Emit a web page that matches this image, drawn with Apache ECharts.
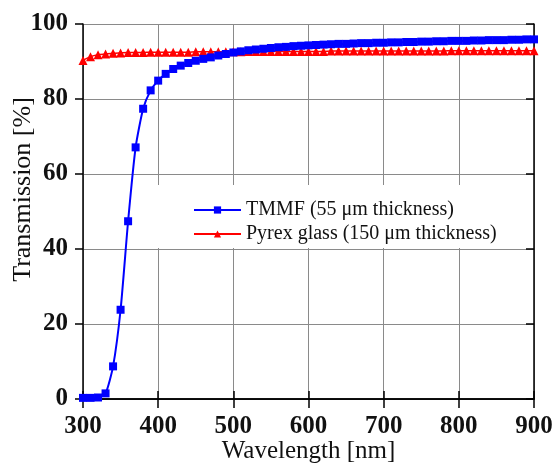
<!DOCTYPE html>
<html>
<head>
<meta charset="utf-8">
<script src="https://cdn.jsdelivr.net/npm/echarts@6/dist/echarts.min.js"></script>
<style>
  html, body { margin: 0; padding: 0; background: #fff; }
  #main { width: 554px; height: 464px; }
</style>
</head>
<body>
<div id="main"></div>
<script>
// wavelength samples [nm]
const wavelengths = [
  300, 310, 320, 330, 340, 350, 360, 370, 380, 390,
  400, 410, 420, 430, 440, 450, 460, 470, 480, 490,
  500, 510, 520, 530, 540, 550, 560, 570, 580, 590,
  600, 610, 620, 630, 640, 650, 660, 670, 680, 690,
  700, 710, 720, 730, 740, 750, 760, 770, 780, 790,
  800, 810, 820, 830, 840, 850, 860, 870, 880, 890, 900
];
// TMMF (55 um) transmission [%]
const tmmf = [
  0.3, 0.3, 0.4, 1.5, 8.7, 23.8, 47.4, 67.1, 77.4, 82.3,
  84.9, 86.7, 88.0, 88.9, 89.6, 90.2, 90.7, 91.1, 91.6, 92.0,
  92.4, 92.7, 93.0, 93.2, 93.4, 93.6, 93.8, 93.9, 94.1, 94.2,
  94.3, 94.4, 94.5, 94.6, 94.7, 94.7, 94.8, 94.9, 94.9, 95.0,
  95.0, 95.1, 95.1, 95.2, 95.2, 95.3, 95.3, 95.4, 95.4, 95.5,
  95.5, 95.5, 95.6, 95.6, 95.7, 95.7, 95.7, 95.8, 95.8, 95.9, 95.9
];
// Pyrex glass (150 um) transmission [%]
const pyrex = [
  90.3, 91.3, 91.8, 92.0, 92.2, 92.3, 92.4, 92.4, 92.4, 92.5,
  92.5, 92.5, 92.5, 92.5, 92.5, 92.6, 92.6, 92.6, 92.6, 92.6,
  92.6, 92.6, 92.7, 92.7, 92.7, 92.7, 92.7, 92.7, 92.7, 92.7,
  92.7, 92.7, 92.7, 92.8, 92.8, 92.8, 92.8, 92.8, 92.8, 92.8,
  92.8, 92.8, 92.8, 92.8, 92.8, 92.8, 92.8, 92.8, 92.8, 92.9,
  92.9, 92.9, 92.9, 92.9, 92.9, 92.9, 92.9, 92.9, 92.9, 92.9, 92.9
];
const xTicks = [300, 400, 500, 600, 700, 800, 900];
const yTicks = [0, 20, 40, 60, 80, 100];

const serif = "'Liberation Serif', 'DejaVu Serif', serif";
const myChart = echarts.init(document.getElementById("main"));

const pairs = (ys) => wavelengths.map((w, i) => [w, ys[i]]);

const option = {
  animation: false,
  grid: { left: 83, right: 20, top: 24, bottom: 65, outerBoundsMode: "none" },
  legend: {
    orient: "vertical",
    left: 150,
    top: 185,
    padding: [15, 8, 4, 43],
    backgroundColor: "#fff",
    itemWidth: 47,
    itemHeight: 9,
    itemGap: 4,
    textStyle: { fontFamily: serif, fontSize: 20, color: "#111" },
    data: ["TMMF (55 μm thickness)", "Pyrex glass (150 μm thickness)"],
  },
  xAxis: [
    {
      type: "value",
      min: xTicks[0],
      max: xTicks[xTicks.length - 1],
      interval: 100,
      name: "Wavelength [nm]",
      nameLocation: "middle",
      nameGap: 40,
      nameMoveOverlap: false,
      nameTextStyle: { fontFamily: serif, fontSize: 25, color: "#111" },
      axisLine: { lineStyle: { color: "#000", width: 1.5 } },
      axisTick: { inside: true, length: 8, lineStyle: { color: "#000", width: 1.5 } },
      axisLabel: {
        margin: 15,
        fontFamily: serif,
        fontSize: 25,
        fontWeight: "bold",
        color: "#111",
      },
      splitLine: { show: true, lineStyle: { color: "#8a8a8a", width: 1 } },
    },
    {
      type: "value",
      position: "top",
      min: xTicks[0],
      max: xTicks[xTicks.length - 1],
      interval: 100,
      axisLine: { show: true, lineStyle: { color: "#000", width: 1.5 } },
      axisTick: { inside: true, length: 9, lineStyle: { color: "#000", width: 1.5 } },
      axisLabel: { show: false },
      splitLine: { show: false },
    },
  ],
  yAxis: [
    {
      type: "value",
      min: yTicks[0],
      max: yTicks[yTicks.length - 1],
      interval: 20,
      name: "Transmission [%]",
      nameLocation: "middle",
      nameGap: 47,
      nameMoveOverlap: false,
      nameTextStyle: {
        fontFamily: serif,
        fontSize: 26,
        color: "#111",
        padding: [0, 0, 0, 44],
      },
      axisLine: { show: true, lineStyle: { color: "#000", width: 1.5 } },
      axisTick: { show: true, length: 8, lineStyle: { color: "#000", width: 1.5 } },
      axisLabel: {
        margin: 15,
        fontFamily: serif,
        fontSize: 25,
        fontWeight: "bold",
        color: "#111",
      },
      splitLine: { show: true, lineStyle: { color: "#8a8a8a", width: 1 } },
    },
    {
      type: "value",
      position: "right",
      min: yTicks[0],
      max: yTicks[yTicks.length - 1],
      interval: 20,
      axisLine: { show: true, lineStyle: { color: "#000", width: 1.5 } },
      axisTick: { show: true, inside: true, length: 8, lineStyle: { color: "#000", width: 1.5 } },
      axisLabel: { show: false },
      splitLine: { show: false },
    },
  ],
  series: [
    {
      name: "Pyrex glass (150 μm thickness)",
      type: "line",
      data: pairs(pyrex),
      smooth: 0.2,
      symbol: "triangle",
      symbolSize: 9,
      lineStyle: { color: "#ff0000", width: 1.5 },
      itemStyle: { color: "#ff0000" },
      clip: false,
    },
    {
      name: "TMMF (55 μm thickness)",
      type: "line",
      data: pairs(tmmf),
      smooth: 0.2,
      symbol: "rect",
      symbolSize: 8,
      lineStyle: { color: "#0000ff", width: 2 },
      itemStyle: { color: "#0000ff" },
      clip: false,
    },
  ],
};

myChart.setOption(option);
</script>
</body>
</html>
